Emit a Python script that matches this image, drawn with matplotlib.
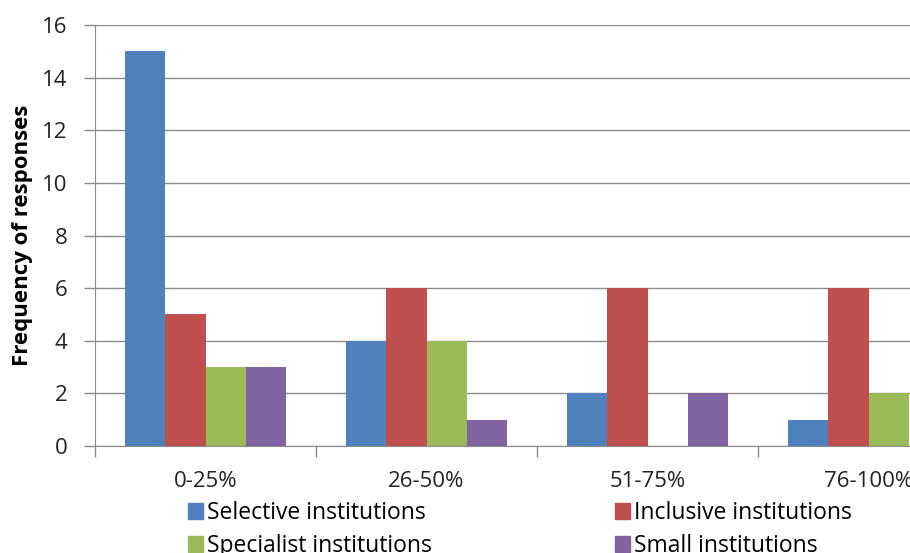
import matplotlib
matplotlib.use('Agg')
from matplotlib import pyplot as plt
from matplotlib.patches import Patch
import numpy as np

# datos
categorias = ['0-25%', '26-50%', '51-75%', '76-100%']
selectivas = [15, 4, 2, 1]
inclusivas = [5, 6, 6, 6]
especialistas = [3, 4, 0, 2]
pequenas = [3, 1, 2, 0]

series = [('Selective institutions', selectivas, '#4F81BD'),
          ('Inclusive institutions', inclusivas, '#C0504D'),
          ('Specialist institutions', especialistas, '#9BBB59'),
          ('Small institutions', pequenas, '#8064A2')]

plt.rcParams['font.family'] = ['Open Sans', 'DejaVu Sans']

fig = plt.figure(figsize=(9.1, 5.53), dpi=100)
# el grafico original esta recortado a la derecha: los ejes siguen fuera de la figura
ax = fig.add_axes([95/910, 107/553, 884/910, 421/553])

x = np.arange(len(categorias))
ancho = 40.25/221
for i, (nombre, valores, color) in enumerate(series):
    ax.bar(x + (i - 1.5)*ancho, valores, ancho, color=color, label=nombre, zorder=3)

ax.set_xlim(-0.5, len(categorias) - 0.5)
ax.set_ylim(0, 16)
ax.set_yticks(np.arange(0, 17, 2))
ax.yaxis.grid(True, color='#8C8C8C', linewidth=1, zorder=0)
ax.set_xticks(np.arange(-0.5, len(categorias), 1))
ax.set_xticklabels([])
ax.set_xticks(x, minor=True)
ax.set_xticklabels(categorias, minor=True)
ax.tick_params(axis='x', which='minor', length=0, pad=18, labelsize=16, colors='#222222')
ax.tick_params(axis='x', which='major', length=8, color='#8C8C8C', width=1)
ax.tick_params(axis='y', length=8, color='#8C8C8C', width=1, labelsize=16,
               labelcolor='#222222', pad=12)
for lado in ['top', 'right']:
    ax.spines[lado].set_visible(False)
ax.spines['left'].set_color('#8C8C8C')
ax.spines['bottom'].set_color('#8C8C8C')
ax.set_ylabel('Frequency of responses', fontsize=16, fontweight='bold')
ax.yaxis.set_label_coords(-0.070, 0.5)

handles = [Patch(color=c, label=n) for n, v, c in series]
kw = dict(frameon=False, fontsize=16.5, handlelength=0.65, handleheight=0.65,
          handletextpad=0.2, labelspacing=0.4, borderpad=0, borderaxespad=0,
          loc='upper left')
fig.legend([handles[0], handles[2]], [series[0][0], series[2][0]],
           bbox_to_anchor=(188/910, 1 - 501/553), **kw)
fig.legend([handles[1], handles[3]], [series[1][0], series[3][0]],
           bbox_to_anchor=(615/910, 1 - 501/553), **kw)

plt.savefig('out.png', dpi=100)
